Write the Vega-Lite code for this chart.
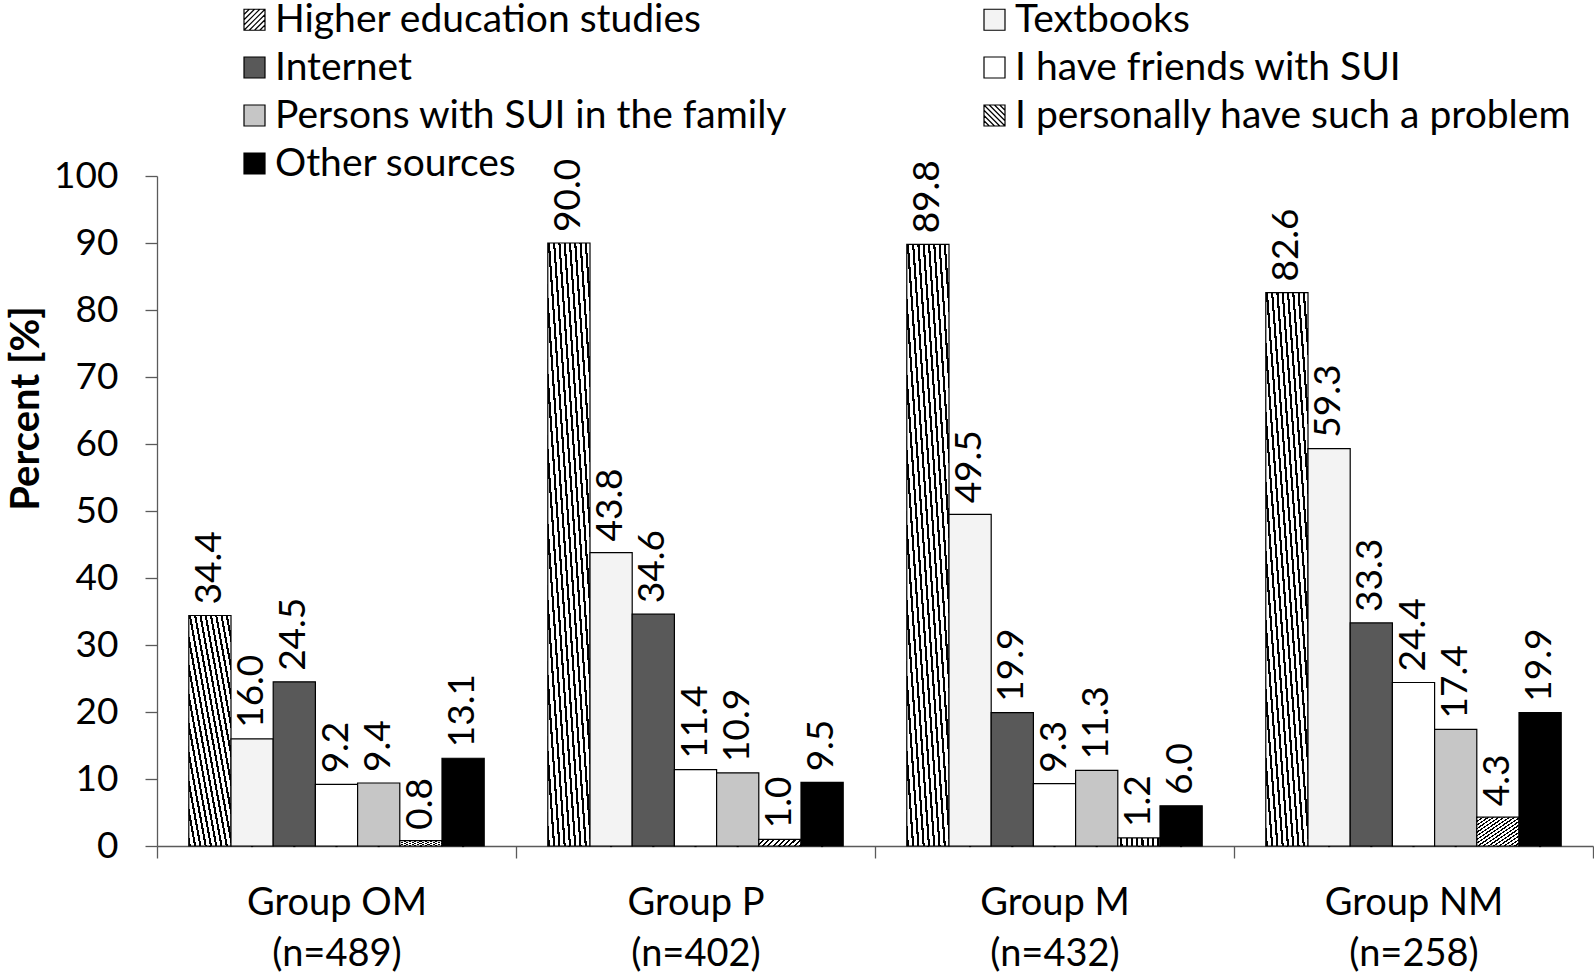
{
  "$schema": "https://vega.github.io/schema/vega-lite/v6.json",
  "autosize": "none",
  "width": 1436,
  "height": 670,
  "padding": {"left": 157, "top": 176, "right": 1, "bottom": 127},
  "background": "white",
  "config": {
    "font": "Lato",
    "view": {"stroke": null},
    "axis": {"labelFont": "Lato", "titleFont": "Lato", "labelColor": "black", "titleColor": "black", "grid": false},
    "legend": {
      "title": null, "orient": "none", "legendX": 78, "legendY": -176, "direction": "horizontal", "columns": 2,
      "columnPadding": 187, "rowPadding": 8, "labelFontSize": 39, "labelFont": "Lato", "labelColor": "black",
      "labelLimit": 1000, "labelOffset": 1, "symbolSize": 441,
      "symbolStrokeColor": "black", "symbolStrokeWidth": 1.2, "symbolOpacity": 1
    }
  },
  "data": {
    "values": [
      {"group": "Group OM|(n=489)", "source": "Higher education studies", "pct": 34.4},
      {"group": "Group OM|(n=489)", "source": "Textbooks", "pct": 16.0},
      {"group": "Group OM|(n=489)", "source": "Internet", "pct": 24.5},
      {"group": "Group OM|(n=489)", "source": "I have friends with SUI", "pct": 9.2},
      {"group": "Group OM|(n=489)", "source": "Persons with SUI in the family", "pct": 9.4},
      {"group": "Group OM|(n=489)", "source": "I personally have such a problem", "pct": 0.8},
      {"group": "Group OM|(n=489)", "source": "Other sources", "pct": 13.1},
      {"group": "Group P|(n=402)", "source": "Higher education studies", "pct": 90.0},
      {"group": "Group P|(n=402)", "source": "Textbooks", "pct": 43.8},
      {"group": "Group P|(n=402)", "source": "Internet", "pct": 34.6},
      {"group": "Group P|(n=402)", "source": "I have friends with SUI", "pct": 11.4},
      {"group": "Group P|(n=402)", "source": "Persons with SUI in the family", "pct": 10.9},
      {"group": "Group P|(n=402)", "source": "I personally have such a problem", "pct": 1.0},
      {"group": "Group P|(n=402)", "source": "Other sources", "pct": 9.5},
      {"group": "Group M|(n=432)", "source": "Higher education studies", "pct": 89.8},
      {"group": "Group M|(n=432)", "source": "Textbooks", "pct": 49.5},
      {"group": "Group M|(n=432)", "source": "Internet", "pct": 19.9},
      {"group": "Group M|(n=432)", "source": "I have friends with SUI", "pct": 9.3},
      {"group": "Group M|(n=432)", "source": "Persons with SUI in the family", "pct": 11.3},
      {"group": "Group M|(n=432)", "source": "I personally have such a problem", "pct": 1.2},
      {"group": "Group M|(n=432)", "source": "Other sources", "pct": 6.0},
      {"group": "Group NM|(n=258)", "source": "Higher education studies", "pct": 82.6},
      {"group": "Group NM|(n=258)", "source": "Textbooks", "pct": 59.3},
      {"group": "Group NM|(n=258)", "source": "Internet", "pct": 33.3},
      {"group": "Group NM|(n=258)", "source": "I have friends with SUI", "pct": 24.4},
      {"group": "Group NM|(n=258)", "source": "Persons with SUI in the family", "pct": 17.4},
      {"group": "Group NM|(n=258)", "source": "I personally have such a problem", "pct": 4.3},
      {"group": "Group NM|(n=258)", "source": "Other sources", "pct": 19.9}
    ]
  },
  "encoding": {
    "x": {
      "field": "group", "type": "nominal", "sort": null,
      "scale": {"paddingInner": 0, "paddingOuter": 0},
      "axis": {
        "title": null, "labelAngle": 0, "labelFontSize": 38, "labelExpr": "split(datum.label, '|')",
        "labelLineHeight": 51, "labelPadding": 26, "tickBand": "extent", "tickSize": 12,
        "domainColor": "#5a5a5a", "tickColor": "#5a5a5a", "domainWidth": 1.3, "tickWidth": 1.3
      }
    },
    "xOffset": {
      "field": "source", "type": "nominal",
      "sort": ["Higher education studies", "Textbooks", "Internet", "I have friends with SUI", "Persons with SUI in the family", "I personally have such a problem", "Other sources"],
      "scale": {"paddingInner": 0, "paddingOuter": 0.7535}
    },
    "y": {
      "field": "pct", "type": "quantitative",
      "scale": {"domain": [0, 100], "nice": false},
      "axis": {
        "values": [0, 10, 20, 30, 40, 50, 60, 70, 80, 90, 100],
        "title": "Percent [%]", "titleFontSize": 40, "titleFontWeight": "bold",
        "titleX": -131, "titleY": 232, "titleAngle": 270, "titleAlign": "center", "titleBaseline": "middle",
        "labelFontSize": 37, "labelPadding": 27, "tickSize": 12,
        "domainColor": "#5a5a5a", "tickColor": "#5a5a5a", "domainWidth": 1.3, "tickWidth": 1.3
      }
    }
  },
  "layer": [
    {
      "mark": {"type": "point", "filled": true, "size": 1, "stroke": "black", "strokeWidth": 1.2, "opacity": 1},
      "encoding": {
        "y": {"datum": 0},
        "fill": {
          "field": "source", "type": "nominal",
          "scale": {
            "domain": ["Higher education studies", "Textbooks", "Internet", "I have friends with SUI", "Persons with SUI in the family", "I personally have such a problem", "Other sources"],
            "range": ["#ffffff", "#f3f3f3", "#595959", "#ffffff", "#c6c6c6", "#ffffff", "#000000"]
          },
          "legend": {"encode": {"symbols": {"update": {"stroke": {"value": "black"}, "strokeWidth": {"value": 1.2}}}}}
        },
        "shape": {
          "field": "source", "type": "nominal",
          "scale": {
            "domain": ["Higher education studies", "Textbooks", "Internet", "I have friends with SUI", "Persons with SUI in the family", "I personally have such a problem", "Other sources"],
            "range": [
              "M-1,-1L1,-1L1,1L-1,1Z M-1,-0.5L-0.5,-1 M-1,0L0,-1 M-1,0.5L0.5,-1 M-1,1L1,-1 M-0.5,1L1,-0.5 M0,1L1,0 M0.5,1L1,0.5",
              "square", "square", "square", "square",
              "M-1,-1L1,-1L1,1L-1,1Z M-1,0.5L-0.5,1 M-1,0L0,1 M-1,-0.5L0.5,1 M-1,-1L1,1 M-0.5,-1L1,0.5 M0,-1L1,0 M0.5,-1L1,-0.5",
              "square"
            ]
          },
          "legend": {"encode": {"symbols": {"update": {"stroke": {"value": "black"}, "strokeWidth": {"value": 1.2}}}}}
        }
      }
    },
    {
      "mark": {"type": "bar", "stroke": "black", "strokeWidth": 1.2},
      "encoding": {
        "fill": {
          "condition": [
            {"test": "datum.source === 'Higher education studies'", "value": {"gradient": "linear", "x1": 0, "y1": 1, "x2": 1, "y2": 0, "stops": [
                {"offset": 0, "color": "#000"}, {"offset": 0.025, "color": "#000"}, {"offset": 0.025, "color": "#fff"}, {"offset": 0.0625, "color": "#fff"},
                {"offset": 0.0625, "color": "#000"}, {"offset": 0.0875, "color": "#000"}, {"offset": 0.0875, "color": "#fff"}, {"offset": 0.125, "color": "#fff"},
                {"offset": 0.125, "color": "#000"}, {"offset": 0.15, "color": "#000"}, {"offset": 0.15, "color": "#fff"}, {"offset": 0.1875, "color": "#fff"},
                {"offset": 0.1875, "color": "#000"}, {"offset": 0.2125, "color": "#000"}, {"offset": 0.2125, "color": "#fff"}, {"offset": 0.25, "color": "#fff"},
                {"offset": 0.25, "color": "#000"}, {"offset": 0.275, "color": "#000"}, {"offset": 0.275, "color": "#fff"}, {"offset": 0.3125, "color": "#fff"},
                {"offset": 0.3125, "color": "#000"}, {"offset": 0.3375, "color": "#000"}, {"offset": 0.3375, "color": "#fff"}, {"offset": 0.375, "color": "#fff"},
                {"offset": 0.375, "color": "#000"}, {"offset": 0.4, "color": "#000"}, {"offset": 0.4, "color": "#fff"}, {"offset": 0.4375, "color": "#fff"},
                {"offset": 0.4375, "color": "#000"}, {"offset": 0.4625, "color": "#000"}, {"offset": 0.4625, "color": "#fff"}, {"offset": 0.5, "color": "#fff"},
                {"offset": 0.5, "color": "#000"}, {"offset": 0.525, "color": "#000"}, {"offset": 0.525, "color": "#fff"}, {"offset": 0.5625, "color": "#fff"},
                {"offset": 0.5625, "color": "#000"}, {"offset": 0.5875, "color": "#000"}, {"offset": 0.5875, "color": "#fff"}, {"offset": 0.625, "color": "#fff"},
                {"offset": 0.625, "color": "#000"}, {"offset": 0.65, "color": "#000"}, {"offset": 0.65, "color": "#fff"}, {"offset": 0.6875, "color": "#fff"},
                {"offset": 0.6875, "color": "#000"}, {"offset": 0.7125, "color": "#000"}, {"offset": 0.7125, "color": "#fff"}, {"offset": 0.75, "color": "#fff"},
                {"offset": 0.75, "color": "#000"}, {"offset": 0.775, "color": "#000"}, {"offset": 0.775, "color": "#fff"}, {"offset": 0.8125, "color": "#fff"},
                {"offset": 0.8125, "color": "#000"}, {"offset": 0.8375, "color": "#000"}, {"offset": 0.8375, "color": "#fff"}, {"offset": 0.875, "color": "#fff"},
                {"offset": 0.875, "color": "#000"}, {"offset": 0.9, "color": "#000"}, {"offset": 0.9, "color": "#fff"}, {"offset": 0.9375, "color": "#fff"},
                {"offset": 0.9375, "color": "#000"}, {"offset": 0.9625, "color": "#000"}, {"offset": 0.9625, "color": "#fff"}, {"offset": 1, "color": "#fff"}
              ]}},
            {"test": "datum.source === 'I personally have such a problem'", "value": {"gradient": "linear", "x1": 0, "y1": 0, "x2": 1, "y2": 1, "stops": [
                {"offset": 0, "color": "#000"}, {"offset": 0.025, "color": "#000"}, {"offset": 0.025, "color": "#fff"}, {"offset": 0.0625, "color": "#fff"},
                {"offset": 0.0625, "color": "#000"}, {"offset": 0.0875, "color": "#000"}, {"offset": 0.0875, "color": "#fff"}, {"offset": 0.125, "color": "#fff"},
                {"offset": 0.125, "color": "#000"}, {"offset": 0.15, "color": "#000"}, {"offset": 0.15, "color": "#fff"}, {"offset": 0.1875, "color": "#fff"},
                {"offset": 0.1875, "color": "#000"}, {"offset": 0.2125, "color": "#000"}, {"offset": 0.2125, "color": "#fff"}, {"offset": 0.25, "color": "#fff"},
                {"offset": 0.25, "color": "#000"}, {"offset": 0.275, "color": "#000"}, {"offset": 0.275, "color": "#fff"}, {"offset": 0.3125, "color": "#fff"},
                {"offset": 0.3125, "color": "#000"}, {"offset": 0.3375, "color": "#000"}, {"offset": 0.3375, "color": "#fff"}, {"offset": 0.375, "color": "#fff"},
                {"offset": 0.375, "color": "#000"}, {"offset": 0.4, "color": "#000"}, {"offset": 0.4, "color": "#fff"}, {"offset": 0.4375, "color": "#fff"},
                {"offset": 0.4375, "color": "#000"}, {"offset": 0.4625, "color": "#000"}, {"offset": 0.4625, "color": "#fff"}, {"offset": 0.5, "color": "#fff"},
                {"offset": 0.5, "color": "#000"}, {"offset": 0.525, "color": "#000"}, {"offset": 0.525, "color": "#fff"}, {"offset": 0.5625, "color": "#fff"},
                {"offset": 0.5625, "color": "#000"}, {"offset": 0.5875, "color": "#000"}, {"offset": 0.5875, "color": "#fff"}, {"offset": 0.625, "color": "#fff"},
                {"offset": 0.625, "color": "#000"}, {"offset": 0.65, "color": "#000"}, {"offset": 0.65, "color": "#fff"}, {"offset": 0.6875, "color": "#fff"},
                {"offset": 0.6875, "color": "#000"}, {"offset": 0.7125, "color": "#000"}, {"offset": 0.7125, "color": "#fff"}, {"offset": 0.75, "color": "#fff"},
                {"offset": 0.75, "color": "#000"}, {"offset": 0.775, "color": "#000"}, {"offset": 0.775, "color": "#fff"}, {"offset": 0.8125, "color": "#fff"},
                {"offset": 0.8125, "color": "#000"}, {"offset": 0.8375, "color": "#000"}, {"offset": 0.8375, "color": "#fff"}, {"offset": 0.875, "color": "#fff"},
                {"offset": 0.875, "color": "#000"}, {"offset": 0.9, "color": "#000"}, {"offset": 0.9, "color": "#fff"}, {"offset": 0.9375, "color": "#fff"},
                {"offset": 0.9375, "color": "#000"}, {"offset": 0.9625, "color": "#000"}, {"offset": 0.9625, "color": "#fff"}, {"offset": 1, "color": "#fff"}
              ]}}
          ],
          "field": "source", "type": "nominal",
          "legend": {"encode": {"symbols": {"update": {"stroke": {"value": "black"}, "strokeWidth": {"value": 1.2}}}}}
        }
      }
    },
    {
      "mark": {"type": "text", "angle": 270, "align": "left", "baseline": "middle", "dx": 11, "fontSize": 37, "font": "Lato", "color": "black"},
      "encoding": {
        "text": {"field": "pct", "type": "quantitative", "format": ".1f"}
      }
    }
  ]
}
